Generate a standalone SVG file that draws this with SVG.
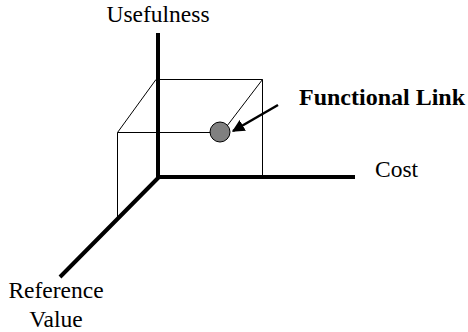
<svg xmlns="http://www.w3.org/2000/svg" width="468" height="332" viewBox="0 0 468 332">
<defs>
<style>
.axis{stroke:#000;stroke-width:4;fill:none;stroke-linecap:butt}
.thin{stroke:#000;stroke-width:1;fill:none}
text{font-family:'Liberation Serif','Times New Roman',Times,serif;font-size:23.5px;fill:#000}
.bold{font-weight:bold;font-size:24px}
</style>
<marker id="ah" viewBox="0 0 10 10" refX="9" refY="5" markerWidth="5" markerHeight="5" orient="auto" markerUnits="strokeWidth">
<path d="M0,0 L10,5 L0,10 z" fill="#000"/>
</marker>
</defs>
<rect width="468" height="332" fill="#fff"/>
<g id="box">
<path class="thin" d="M158,79.5 H262.5 V177 M117.5,218 V132.5 H222 M117.5,132.5 L156,79.5 M222,132.5 L262.5,79.5"/>
</g>
<g id="axes">
<path class="axis" d="M158,33 V178 M156,177 H355 M159,177 L60,277"/>
</g>
<g id="node-functional-link">
<circle cx="220" cy="132" r="10" fill="#808080" stroke="#000" stroke-width="1"/>
</g>
<g id="connectors">
<line x1="278" y1="105" x2="233" y2="131" stroke="#000" stroke-width="2.5" marker-end="url(#ah)"/>
</g>
<g id="labels">
<text x="158" y="22" text-anchor="middle">Usefulness</text>
<text class="bold" x="299" y="105">Functional Link</text>
<text x="375" y="177">Cost</text>
<text x="56" y="298" text-anchor="middle">Reference</text>
<text x="56" y="327" text-anchor="middle">Value</text>
</g>
</svg>
